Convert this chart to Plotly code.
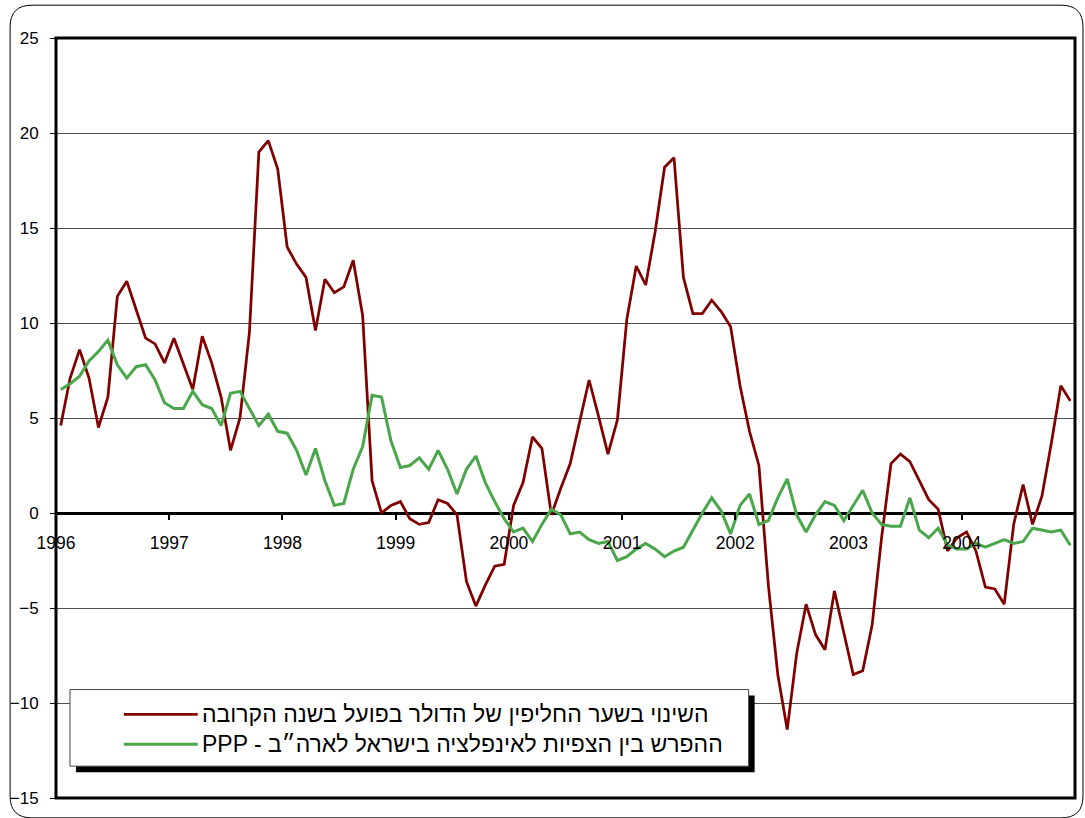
import plotly.graph_objects as go

# Monthly observations, Jan 1996 - Dec 2004
start_year = 1996
n_months = 108

# Actual change in the dollar exchange rate over the following year (%)
fx_change = [
    4.6, 7.1, 8.6, 7.1, 4.5, 6.1, 11.4, 12.2, 10.7, 9.2, 8.9, 7.9,
    9.2, 7.9, 6.5, 9.3, 7.9, 6.1, 3.3, 5.0, 9.5, 19.0, 19.6, 18.1,
    14.0, 13.1, 12.4, 9.6, 12.3, 11.6, 11.9, 13.3, 10.4, 1.7, 0.0, 0.4,
    0.6, -0.3, -0.6, -0.5, 0.7, 0.5, -0.1, -3.6, -4.9, -3.8, -2.8, -2.7,
    0.4, 1.6, 4.0, 3.4, -0.1, 1.3, 2.6, 4.8, 7.0, 5.1, 3.1, 4.9,
    10.2, 13.0, 12.0, 14.8, 18.2, 18.7, 12.4, 10.5, 10.5, 11.2, 10.6, 9.8,
    6.7, 4.3, 2.5, -3.8, -8.5, -11.4, -7.4, -4.8, -6.4, -7.2, -4.1, -6.3,
    -8.5, -8.3, -5.9, -1.3, 2.6, 3.1, 2.7, 1.7, 0.7, 0.2, -2.0, -1.3,
    -1.0, -2.0, -3.9, -4.0, -4.8, -0.6, 1.5, -0.6, 0.9, 3.7, 6.7, 5.9,
]

# Gap between inflation expectations in Israel and the US (PPP)
ppp_gap = [
    6.5, 6.8, 7.2, 8.0, 8.5, 9.1, 7.8, 7.1, 7.7, 7.8, 7.0, 5.8,
    5.5, 5.5, 6.4, 5.7, 5.5, 4.6, 6.3, 6.4, 5.5, 4.6, 5.2, 4.3,
    4.2, 3.3, 2.0, 3.4, 1.7, 0.4, 0.5, 2.3, 3.5, 6.2, 6.1, 3.8,
    2.4, 2.5, 2.9, 2.3, 3.3, 2.3, 1.0, 2.3, 3.0, 1.6, 0.6, -0.3,
    -1.0, -0.8, -1.5, -0.6, 0.2, -0.1, -1.1, -1.0, -1.4, -1.6, -1.5, -2.5,
    -2.3, -1.9, -1.6, -1.9, -2.3, -2.0, -1.8, -0.9, 0.0, 0.8, 0.1, -1.1,
    0.4, 1.0, -0.6, -0.4, 0.8, 1.8, -0.1, -1.0, -0.1, 0.6, 0.4, -0.4,
    0.4, 1.2, 0.0, -0.6, -0.7, -0.7, 0.8, -0.9, -1.3, -0.8, -1.7, -1.9,
    -1.9, -1.6, -1.8, -1.6, -1.4, -1.6, -1.5, -0.8, -0.9, -1.0, -0.9, -1.7,
]

year_ticks = list(range(1996, 2005))
year_labels = [str(y) for y in year_ticks]
y_ticks = [-15, -10, -5, 0, 5, 10, 15, 20, 25]

name_fx = "השינוי בשער החליפין של הדולר בפועל בשנה הקרובה"
name_ppp = "PPP - ההפרש בין הצפיות לאינפלציה בישראל לארה״ב"

RED = "#800000"
GREEN = "#4AA64A"
FONT = "Liberation Sans, Arial, sans-serif"

# each month sits in the middle of its category slot
months = [start_year + (i + 0.5) / 12 for i in range(n_months)]

W, H = 1085, 818
L, R, T, B = 54, 10, 38, 16
PW, PH = W - L - R, H - T - B


def px(xp):
    return (xp - L) / PW


def py(yp):
    return (H - B - yp) / PH


fig = go.Figure()
fig.add_trace(go.Scatter(x=months, y=fx_change, mode="lines", name=name_fx,
                         line=dict(color=RED, width=2.75)))
fig.add_trace(go.Scatter(x=months, y=ppp_gap, mode="lines", name=name_ppp,
                         line=dict(color=GREEN, width=3)))

shapes = []

# rounded outer chart frame
fx0, fx1, fy0, fy1, rad = 8, 1083, 5, 822, 22
def P(a, b):
    return f"{px(a):.5f},{py(b):.5f}"
frame_path = (
    f"M {P(fx0 + rad, fy0)} L {P(fx1 - rad, fy0)} Q {P(fx1, fy0)} {P(fx1, fy0 + rad)} "
    f"L {P(fx1, fy1 - rad)} Q {P(fx1, fy1)} {P(fx1 - rad, fy1)} "
    f"L {P(fx0 + rad, fy1)} Q {P(fx0, fy1)} {P(fx0, fy1 - rad)} "
    f"L {P(fx0, fy0 + rad)} Q {P(fx0, fy0)} {P(fx0 + rad, fy0)} Z"
)
shapes.append(dict(type="path", xref="paper", yref="paper", path=frame_path,
                   line=dict(color="black", width=1), layer="below"))

# heavy plot-area border
shapes.append(dict(type="rect", xref="paper", yref="paper", x0=0, x1=1, y0=0, y1=1,
                   line=dict(color="black", width=3), layer="above"))

# legend box with drop shadow
lx0, lx1, ly0, ly1, sh = 68, 748, 693, 770, 6
shapes.append(dict(type="rect", xref="paper", yref="paper",
                   x0=px(lx0 + sh), x1=px(lx1 + sh), y0=py(ly1 + sh), y1=py(ly0 + sh),
                   fillcolor="black", line=dict(width=0), layer="above"))
shapes.append(dict(type="rect", xref="paper", yref="paper",
                   x0=px(lx0), x1=px(lx1), y0=py(ly1), y1=py(ly0),
                   fillcolor="white", line=dict(color="#444", width=1), layer="above"))

annotations = []
for (name, color, width, yrow) in [(name_fx, RED, 2.75, 718), (name_ppp, GREEN, 3, 748)]:
    shapes.append(dict(type="line", xref="paper", yref="paper",
                       x0=px(122), x1=px(196), y0=py(yrow), y1=py(yrow),
                       line=dict(color=color, width=width), layer="above"))
    annotations.append(dict(xref="paper", yref="paper", x=px(198), y=py(yrow),
                            xanchor="left", yanchor="middle", showarrow=False,
                            text=name, font=dict(family=FONT, size=23, color="black")))

fig.update_layout(
    width=W, height=H,
    margin=dict(l=L, r=R, t=T, b=B, pad=0),
    paper_bgcolor="white", plot_bgcolor="white",
    showlegend=False,
    font=dict(family=FONT, size=17, color="black"),
    shapes=shapes,
    annotations=annotations,
    xaxis=dict(
        range=[1996, 2005], anchor="free", position=0.375,
        tickvals=year_ticks, ticktext=year_labels,
        ticks="outside", ticklen=6, tickwidth=2, tickcolor="black",
        showgrid=False, zeroline=False, showline=False, ticklabelstandoff=8,
        tickfont=dict(family=FONT, size=17.5, color="black"),
    ),
    xaxis2=dict(
        range=[1996, 2005], overlaying="x", anchor="free", position=0.375,
        tickvals=year_ticks, ticks="inside", ticklen=6, tickwidth=2, tickcolor="black",
        showticklabels=False, showgrid=False, zeroline=False, showline=False,
    ),
    yaxis=dict(
        range=[-15, 25], tickvals=y_ticks,
        ticks="outside", ticklen=5, tickwidth=1, tickcolor="black",
        showgrid=True, gridcolor="#505050", gridwidth=1,
        zeroline=True, zerolinecolor="black", zerolinewidth=3,
        showline=False, ticklabelstandoff=8,
        tickfont=dict(family=FONT, size=17, color="black"),
    ),
)

fig.write_html("out.html")
